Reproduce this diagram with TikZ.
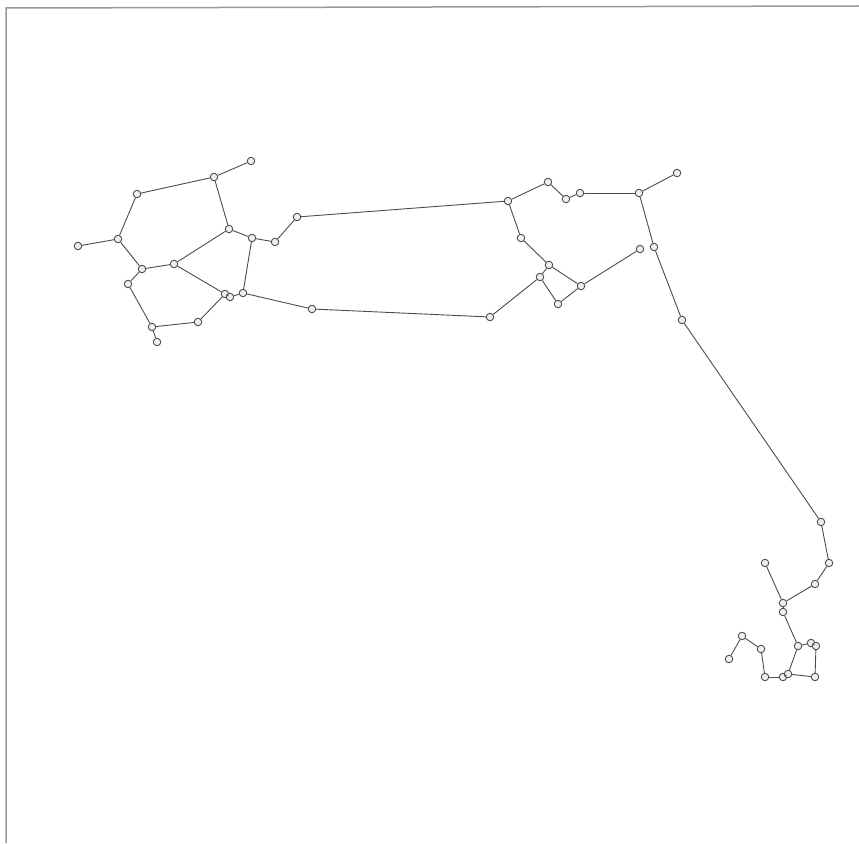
\documentclass[tikz,border=0pt]{standalone}
\begin{document}
\begin{tikzpicture}[x=1pt,y=-1pt,
  v/.style={circle,draw=black!70,fill=black!6,line width=0.9pt,inner sep=0pt,minimum size=7.5pt},
  e/.style={draw=black!70,line width=0.9pt},
  frameline/.style={draw=black!40,line width=1.5pt}]
\useasboundingbox (0,0) rectangle (859,843);
\coordinate (fbl) at (6,843);
\coordinate (ftl) at (6,8);
\coordinate (ftr) at (859,6);
\draw[frameline] (fbl) -- (ftl) -- (ftr);
% left cluster
\node[v] (a1) at (251,161) {};
\node[v] (a2) at (214,177) {};
\node[v] (a3) at (137,194) {};
\node[v] (a4) at (118,239) {};
\node[v] (a5) at (78,246) {};
\node[v] (a6) at (229,229) {};
\node[v] (a7) at (252,238) {};
\node[v] (a8) at (275,242) {};
\node[v] (a9) at (297,217) {};
\node[v] (a10) at (142,269) {};
\node[v] (a11) at (174,264) {};
\node[v] (a12) at (128,284) {};
\node[v] (a13) at (225,294) {};
\node[v] (a14) at (230,297) {};
\node[v] (a15) at (243,293) {};
\node[v] (a16) at (312,309) {};
\node[v] (a17) at (198,322) {};
\node[v] (a18) at (152,327) {};
\node[v] (a19) at (157,342) {};
% middle cluster
\node[v] (b1) at (508,201) {};
\node[v] (b2) at (548,182) {};
\node[v] (b3) at (566,199) {};
\node[v] (b4) at (580,193) {};
\node[v] (b5) at (639,193) {};
\node[v] (b6) at (677,173) {};
\node[v] (b7) at (521,238) {};
\node[v] (b8) at (549,265) {};
\node[v] (b9) at (540,277) {};
\node[v] (b10) at (581,286) {};
\node[v] (b11) at (558,304) {};
\node[v] (b12) at (640,249) {};
\node[v] (b13) at (654,247) {};
\node[v] (b14) at (682,320) {};
\node[v] (b15) at (490,317) {};
% right-bottom cluster
\node[v] (c1) at (821,522) {};
\node[v] (c2) at (829,563) {};
\node[v] (c3) at (815,584) {};
\node[v] (c4) at (765,563) {};
\node[v] (c5) at (783,603) {};
\node[v] (c6) at (783,612) {};
\node[v] (c7) at (742,636) {};
\node[v] (c8) at (729,659) {};
\node[v] (c9) at (761,649) {};
\node[v] (c10) at (798,646) {};
\node[v] (c11) at (811,643) {};
\node[v] (c12) at (816,646) {};
\node[v] (c13) at (765,677) {};
\node[v] (c14) at (783,677) {};
\node[v] (c15) at (788,674) {};
\node[v] (c16) at (815,677) {};
% edges
\foreach \p/\q in {a1/a2,a2/a3,a3/a4,a4/a5,a2/a6,a6/a7,a7/a8,a8/a9,a9/b1,
  a4/a10,a10/a11,a11/a6,a11/a13,a10/a12,a12/a18,a18/a19,a18/a17,a17/a13,
  a13/a14,a14/a15,a15/a7,a15/a16,a16/b15,
  b1/b2,b2/b3,b3/b4,b4/b5,b5/b6,b5/b13,b13/b14,b1/b7,b7/b8,b8/b10,b10/b12,
  b8/b9,b9/b15,b9/b11,b11/b10,b14/c1,
  c1/c2,c2/c3,c3/c5,c4/c5,c5/c6,c6/c10,c10/c15,c10/c11,c11/c12,c12/c16,
  c16/c15,c15/c14,c14/c13,c13/c9,c9/c7,c7/c8}
  \draw[e] (\p) -- (\q);
\end{tikzpicture}
\end{document}
